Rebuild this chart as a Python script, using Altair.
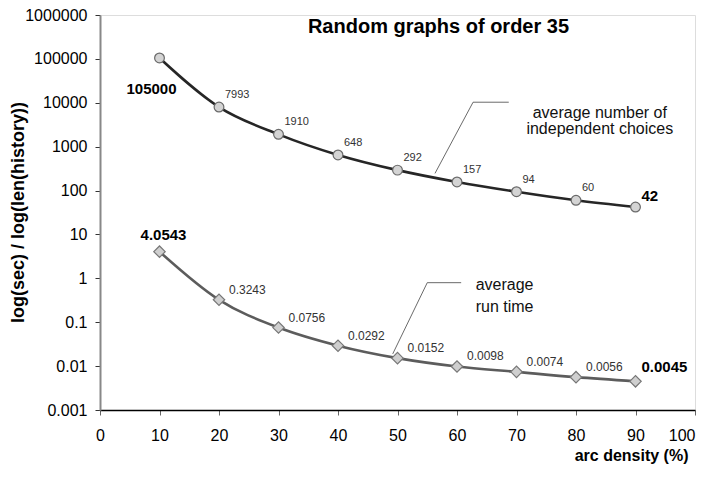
import altair as alt
import pandas as pd

density = [10, 20, 30, 40, 50, 60, 70, 80, 90]
choices = [105000, 7993, 1910, 648, 292, 157, 94, 60, 42]
choices_text = ["105000", "7993", "1910", "648", "292", "157", "94", "60", "42"]
runtime = [4.0543, 0.3243, 0.0756, 0.0292, 0.0152, 0.0098, 0.0074, 0.0056, 0.0045]
runtime_text = ["4.0543", "0.3243", "0.0756", "0.0292", "0.0152", "0.0098", "0.0074", "0.0056", "0.0045"]

y_ticks = [0.001, 0.01, 0.1, 1, 10, 100, 1000, 10000, 100000, 1000000]
x_ticks = [0, 10, 20, 30, 40, 50, 60, 70, 80, 90, 100]

ann_text = ["average number of", "independent choices", "average", "run time"]
ann_x = [84.0, 84.0, 68.0, 68.0]
ann_y = [4440, 1914, 0.551, 0.1734]

call1_x = [56.3, 62.7, 68.7]
call1_y = [246, 10300, 10300]
call2_x = [49.2, 55.0, 60.7]
call2_y = [0.019, 0.796, 0.796]

FONT = "Liberation Sans"

df_c = pd.DataFrame({"x": density, "y": choices, "t": choices_text, "i": range(len(density))})
df_r = pd.DataFrame({"x": density, "y": runtime, "t": runtime_text, "i": range(len(density))})
df_ann = pd.DataFrame({"x": ann_x, "y": ann_y, "t": ann_text})
df_l1 = pd.DataFrame({"x": call1_x, "y": call1_y, "o": range(3)})
df_l2 = pd.DataFrame({"x": call2_x, "y": call2_y, "o": range(3)})

xs = alt.Scale(domain=[0, 100], nice=False, zero=False)
ys = alt.Scale(type="log", domain=[0.001, 1000000], nice=False)

x_axis = alt.Axis(
    values=x_ticks, title="arc density (%)", grid=False,
    domainColor="#000", domainWidth=1.5, tickColor="#666", tickSize=5,
    labelFontSize=16, labelPadding=12, labelColor="#000", labelFont=FONT,
    labelAlign={"condition": {"test": "datum.value == 100", "value": "right"}, "value": "center"},
    titleFontSize=16, titleFontWeight="bold", titleFont=FONT, titleColor="#000",
    titleAlign="right", titleBaseline="middle", titleX=588, titleY=45,
    labelOverlap=False, labelFlush=False,
)
y_axis = alt.Axis(
    values=y_ticks, title="log(sec) / log(len(history))", grid=False,
    labelExpr="'' + datum.value",
    domainColor="#888", domainWidth=2, tickColor="#333", tickSize=5,
    labelFontSize=16, labelPadding=8, labelColor="#000", labelFont=FONT,
    titleFontSize=18, titleFontWeight="bold", titleFont=FONT, titleColor="#000",
    titleAngle=270, titleAlign="center", titleBaseline="middle",
    titleX=-82, titleY=197,
    labelOverlap=False, labelFlush=False,
)

X = alt.X("x:Q", scale=xs, axis=x_axis)
Y = alt.Y("y:Q", scale=ys, axis=y_axis)
Xn = alt.X("x:Q", scale=xs)
Yn = alt.Y("y:Q", scale=ys)

line_c = alt.Chart(df_c).mark_line(color="#262626", strokeWidth=2.6, interpolate="monotone").encode(x=X, y=Y)
pts_c = alt.Chart(df_c).mark_point(shape="circle", filled=True, fill="#d4d4d4", stroke="#6a6a6a",
                                   strokeWidth=1.2, size=95, opacity=1).encode(x=Xn, y=Yn)
line_r = alt.Chart(df_r).mark_line(color="#5c5c5c", strokeWidth=2.6, interpolate="monotone").encode(x=Xn, y=Yn)
pts_r = alt.Chart(df_r).mark_point(shape="diamond", filled=True, fill="#cfcfcf", stroke="#777",
                                   strokeWidth=1.2, size=130, opacity=1).encode(x=Xn, y=Yn)

small_c = alt.Chart(df_c).transform_filter("datum.i > 0 && datum.i < 8").mark_text(
    align="left", baseline="middle", dx=6, dy=-12, fontSize=11, font=FONT, color="#333"
).encode(x=Xn, y=Yn, text="t:N")
small_r = alt.Chart(df_r).transform_filter("datum.i > 0 && datum.i < 8").mark_text(
    align="left", baseline="middle", dx=10, dy=-10, fontSize=12, font=FONT, color="#333"
).encode(x=Xn, y=Yn, text="t:N")

first_c = alt.Chart(df_c).transform_filter("datum.i == 0").mark_text(
    align="center", baseline="middle", dx=-8, dy=31, fontSize=15, fontWeight="bold", font=FONT, color="#000"
).encode(x=Xn, y=Yn, text="t:N")
last_c = alt.Chart(df_c).transform_filter("datum.i == 8").mark_text(
    align="left", baseline="middle", dx=6, dy=-11, fontSize=15, fontWeight="bold", font=FONT, color="#000"
).encode(x=Xn, y=Yn, text="t:N")
first_r = alt.Chart(df_r).transform_filter("datum.i == 0").mark_text(
    align="center", baseline="middle", dx=4, dy=-17, fontSize=15, fontWeight="bold", font=FONT, color="#000"
).encode(x=Xn, y=Yn, text="t:N")
last_r = alt.Chart(df_r).transform_filter("datum.i == 8").mark_text(
    align="left", baseline="middle", dx=6, dy=-14, fontSize=15, fontWeight="bold", font=FONT, color="#000"
).encode(x=Xn, y=Yn, text="t:N")

ann = alt.Chart(df_ann).mark_text(
    align="center", baseline="alphabetic", fontSize=16, font=FONT, color="#111"
).encode(x=Xn, y=Yn, text="t:N")
l1 = alt.Chart(df_l1).mark_line(color="#444", strokeWidth=0.8).encode(x=Xn, y=Yn, order="o:Q")
l2 = alt.Chart(df_l2).mark_line(color="#444", strokeWidth=0.8).encode(x=Xn, y=Yn, order="o:Q")

chart = alt.layer(
    line_c, line_r, l1, l2, pts_c, pts_r, small_c, small_r, first_c, last_c, first_r, last_r, ann
).properties(
    width=595, height=395,
    padding={"left": 92, "top": 7, "right": 5, "bottom": 60},
    autosize=alt.AutoSizeParams(type="none"),
    title=alt.TitleParams(
        "Random graphs of order 35", fontSize=20, fontWeight="bold", font=FONT, color="#000",
        anchor="middle", frame="group", baseline="middle", offset=0, dx=41, dy=40,
    ),
).configure_view(stroke=None).configure(background="white")

chart.save("out.html", embed_options={"renderer": "svg", "actions": False})
